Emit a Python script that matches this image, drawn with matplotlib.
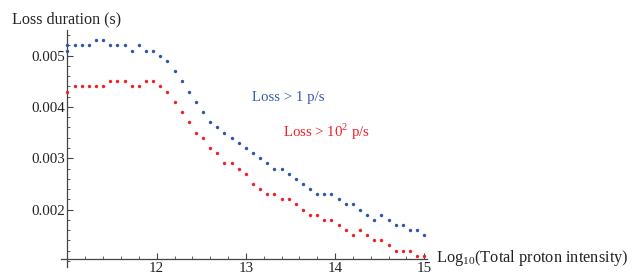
import numpy as np
import matplotlib
matplotlib.use('Agg')
import matplotlib.pyplot as plt
from matplotlib.ticker import MultipleLocator

plt.rcParams['font.family'] = ['Liberation Serif', 'DejaVu Serif']
plt.rcParams['mathtext.fontset'] = 'custom'
plt.rcParams['mathtext.rm'] = 'Liberation Serif'

# log10 of total proton intensity (first point doubled on the blue curve)
x_blue = [11.0, 11.0, 11.08, 11.16, 11.24, 11.32, 11.4, 11.48, 11.56, 11.64, 11.72,
          11.8, 11.88, 11.96, 12.04, 12.12, 12.2, 12.28, 12.36, 12.44, 12.52,
          12.6, 12.68, 12.76, 12.84, 12.92, 13.0, 13.08, 13.16, 13.24, 13.32,
          13.4, 13.48, 13.56, 13.64, 13.72, 13.8, 13.88, 13.96, 14.04, 14.12,
          14.2, 14.28, 14.36, 14.44, 14.52, 14.6, 14.68, 14.76, 14.84, 14.92, 15.0]
y_blue = [0.0051, 0.0052, 0.0052, 0.0052, 0.0052, 0.0053, 0.0053, 0.0052, 0.0052, 0.0052, 0.0051,
          0.0052, 0.0051, 0.0051, 0.0050, 0.0049, 0.0047, 0.0045, 0.0043, 0.0041, 0.0039,
          0.0037, 0.0036, 0.0035, 0.0034, 0.0033, 0.0032, 0.0031, 0.0030, 0.0029, 0.0028,
          0.0028, 0.0027, 0.0026, 0.0025, 0.0024, 0.0023, 0.0023, 0.0023, 0.0022, 0.0021,
          0.0021, 0.0020, 0.0019, 0.0018, 0.0019, 0.0018, 0.0017, 0.0017, 0.0016, 0.0016, 0.0015]

x_red = x_blue[1:]
y_red = [0.0043, 0.0044, 0.0044, 0.0044, 0.0044, 0.0044, 0.0045, 0.0045, 0.0045, 0.0044,
         0.0044, 0.0045, 0.0045, 0.0044, 0.0043, 0.0041, 0.0039, 0.0037, 0.0035, 0.0034,
         0.0032, 0.0031, 0.0029, 0.0029, 0.0028, 0.0027, 0.0025, 0.0024, 0.0023, 0.0023,
         0.0022, 0.0022, 0.0021, 0.0020, 0.0019, 0.0019, 0.0018, 0.0018, 0.0017, 0.0016,
         0.0015, 0.0016, 0.0015, 0.0014, 0.0014, 0.0013, 0.0012, 0.0012, 0.0012, 0.0011, 0.0011]

xticks = [12, 13, 14, 15]
yticks = [0.002, 0.003, 0.004, 0.005]

fig = plt.figure(figsize=(6.32, 2.74), dpi=100)
ax = fig.add_axes([0.0965, 0.0255, 0.579, 0.865])

ax.scatter(x_blue, y_blue, s=6, color='#2f55a8', linewidths=0, clip_on=False, zorder=3)
ax.scatter(x_red, y_red, s=6, color='#ee2028', linewidths=0, clip_on=False, zorder=3)

ax.set_xlim(10.927, 15.03)
ax.set_ylim(0.00088, 0.0055)

# mathematica style crossing axes
ax.spines['left'].set_position(('data', 11))
ax.spines['bottom'].set_position(('data', 0.00104))
ax.spines['top'].set_visible(False)
ax.spines['right'].set_visible(False)
for s in ['left', 'bottom']:
    ax.spines[s].set_color('#444444')
    ax.spines[s].set_linewidth(0.9)

ax.set_xticks(xticks)
ax.set_yticks(yticks)
ax.set_yticklabels(['%.3f' % v for v in yticks])
ax.xaxis.set_minor_locator(MultipleLocator(0.2))
ax.yaxis.set_minor_locator(MultipleLocator(0.0002))
ax.tick_params(which='major', direction='in', length=4.5, width=0.8, colors='#444444',
               labelcolor='#222222', labelsize=10.8, pad=2)
ax.tick_params(which='minor', direction='in', length=2.5, width=0.6, colors='#444444')

ax.text(13.065, 0.00419, 'Loss > 1 p/s', color='#3a5aa8', fontsize=10.7, va='center', ha='left')
ax.text(13.416, 0.00351, r'Loss > 10$^2$ p/s', color='#ee2028', fontsize=10.7, va='center', ha='left')

fig.text(12/632, 1 - 19/274, 'Loss duration (s)', fontsize=11.6, color='#222222', va='center', ha='left')
fig.text(436/632, 1 - 258/274, r'Log$_{10}$(Total proton intensity)', fontsize=11.8,
         color='#222222', va='center', ha='left')

plt.savefig('out.png', dpi=100)
